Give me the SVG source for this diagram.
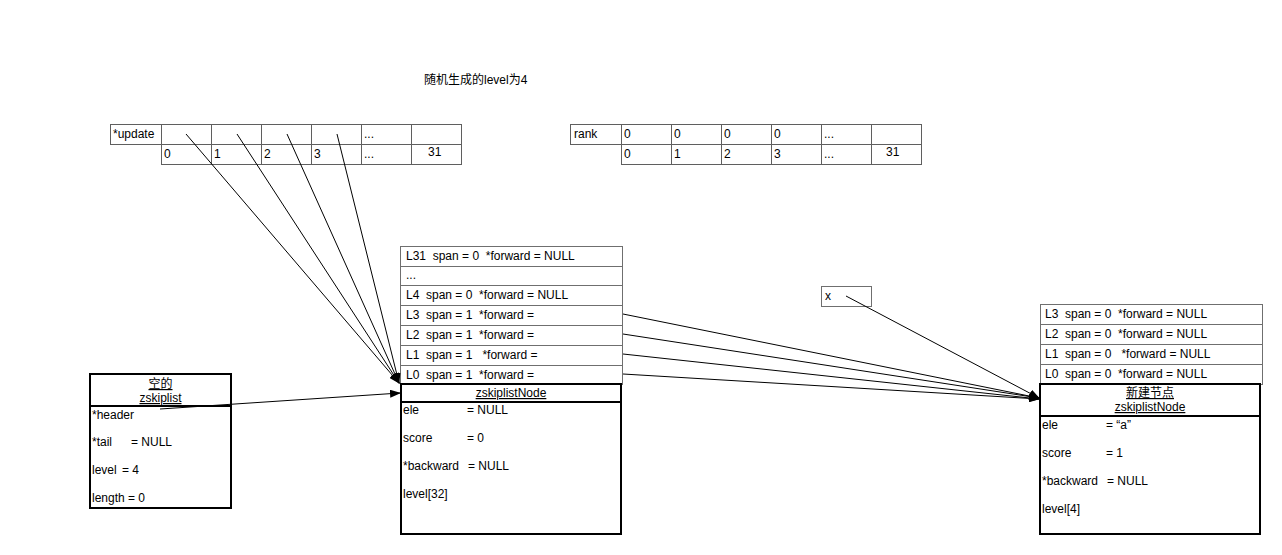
<svg xmlns="http://www.w3.org/2000/svg" width="1282" height="555" viewBox="0 0 1282 555">
  <style>
    text { font-family: "Liberation Sans", Arial, "Noto Sans CJK SC", sans-serif; font-size: 12px; fill: #000; white-space: pre; }
    .cell { fill: #fff; stroke: #5f5f5f; stroke-width: 1; }
    .lvl { fill: #fff; stroke: #6f6f6f; stroke-width: 1; }
    .box { fill: #fff; stroke: #000; stroke-width: 2; }
    .sep { stroke: #000; stroke-width: 2; }
    .title { text-decoration: underline; }
    .link { fill: none; stroke: #000; stroke-width: 1; marker-end: url(#arrow); }
  </style>
  <defs>
    <marker id="arrow" markerUnits="userSpaceOnUse" markerWidth="11" markerHeight="8" refX="10" refY="4" orient="auto">
      <path d="M0,0 L11,4 L0,8 z" fill="#000"/>
    </marker>
  </defs>
  <rect width="1282" height="555" fill="#fff"/>

  <text id="caption" x="424" y="84">随机生成的level为4</text>

  <!-- update array -->
  <g id="update">
    <rect class="cell" x="110.5" y="124.5" width="51" height="20"/>
    <rect class="cell" x="161.5" y="124.5" width="50" height="20"/>
    <rect class="cell" x="211.5" y="124.5" width="50" height="20"/>
    <rect class="cell" x="261.5" y="124.5" width="50" height="20"/>
    <rect class="cell" x="311.5" y="124.5" width="50" height="20"/>
    <rect class="cell" x="361.5" y="124.5" width="50" height="20"/>
    <rect class="cell" x="411.5" y="124.5" width="50" height="20"/>
    <rect class="cell" x="161.5" y="144.5" width="50" height="20"/>
    <rect class="cell" x="211.5" y="144.5" width="50" height="20"/>
    <rect class="cell" x="261.5" y="144.5" width="50" height="20"/>
    <rect class="cell" x="311.5" y="144.5" width="50" height="20"/>
    <rect class="cell" x="361.5" y="144.5" width="50" height="20"/>
    <rect class="cell" x="411.5" y="144.5" width="50" height="20"/>
    <text x="113" y="138">*update</text>
    <text x="364" y="138">...</text>
    <text x="164" y="158">0</text>
    <text x="214" y="158">1</text>
    <text x="264" y="158">2</text>
    <text x="314" y="158">3</text>
    <text x="364" y="158">...</text>
    <text x="428" y="156">31</text>
  </g>

  <!-- rank array -->
  <g id="rank">
    <rect class="cell" x="570.5" y="124.5" width="51" height="20"/>
    <rect class="cell" x="621.5" y="124.5" width="50" height="20"/>
    <rect class="cell" x="671.5" y="124.5" width="50" height="20"/>
    <rect class="cell" x="721.5" y="124.5" width="50" height="20"/>
    <rect class="cell" x="771.5" y="124.5" width="50" height="20"/>
    <rect class="cell" x="821.5" y="124.5" width="50" height="20"/>
    <rect class="cell" x="871.5" y="124.5" width="50" height="20"/>
    <rect class="cell" x="621.5" y="144.5" width="50" height="20"/>
    <rect class="cell" x="671.5" y="144.5" width="50" height="20"/>
    <rect class="cell" x="721.5" y="144.5" width="50" height="20"/>
    <rect class="cell" x="771.5" y="144.5" width="50" height="20"/>
    <rect class="cell" x="821.5" y="144.5" width="50" height="20"/>
    <rect class="cell" x="871.5" y="144.5" width="50" height="20"/>
    <text x="574" y="138">rank</text>
    <text x="624" y="138">0</text>
    <text x="674" y="138">0</text>
    <text x="724" y="138">0</text>
    <text x="774" y="138">0</text>
    <text x="824" y="138">...</text>
    <text x="624" y="158">0</text>
    <text x="674" y="158">1</text>
    <text x="724" y="158">2</text>
    <text x="774" y="158">3</text>
    <text x="824" y="158">...</text>
    <text x="886" y="156">31</text>
  </g>

  <!-- empty zskiplist -->
  <g id="zskiplist">
    <rect class="box" x="90" y="374" width="141" height="134"/>
    <line class="sep" x1="90" y1="406" x2="231" y2="406"/>
    <text class="title" x="160.5" y="388" text-anchor="middle">空的</text>
    <text class="title" x="160.5" y="402" text-anchor="middle">zskiplist</text>
    <text x="92" y="419">*header</text>
    <text x="92" y="446">*tail</text>
    <text x="131" y="446">= NULL</text>
    <text x="92" y="474">level</text>
    <text x="122" y="474">= 4</text>
    <text x="92" y="502">length = 0</text>
  </g>

  <!-- header node with 32 levels -->
  <g id="headerNode">
    <rect class="lvl" x="400.5" y="246.5" width="222" height="20"/>
    <rect class="lvl" x="400.5" y="266.5" width="222" height="19"/>
    <rect class="lvl" x="400.5" y="285.5" width="222" height="20"/>
    <rect class="lvl" x="400.5" y="305.5" width="222" height="20"/>
    <rect class="lvl" x="400.5" y="325.5" width="222" height="20"/>
    <rect class="lvl" x="400.5" y="345.5" width="222" height="20"/>
    <rect class="lvl" x="400.5" y="365.5" width="222" height="19"/>
    <text x="406" y="260">L31  span = 0  *forward = NULL</text>
    <text x="406" y="279">...</text>
    <text x="406" y="299">L4  span = 0  *forward = NULL</text>
    <text x="406" y="319">L3  span = 1  *forward =</text>
    <text x="406" y="339">L2  span = 1  *forward =</text>
    <text x="406" y="359">L1  span = 1   *forward =</text>
    <text x="406" y="379">L0  span = 1  *forward =</text>
    <rect class="box" x="401" y="384" width="220" height="150"/>
    <line class="sep" x1="401" y1="402" x2="621" y2="402"/>
    <text class="title" x="511" y="397" text-anchor="middle">zskiplistNode</text>
    <text x="403" y="414">ele</text>
    <text x="467" y="414">= NULL</text>
    <text x="403" y="442">score</text>
    <text x="467" y="442">= 0</text>
    <text x="403" y="470">*backward</text>
    <text x="468" y="470">= NULL</text>
    <text x="403" y="498">level[32]</text>
  </g>

  <!-- pointer x -->
  <g id="x">
    <rect class="lvl" x="821.5" y="286.5" width="50" height="20"/>
    <text x="825" y="300">x</text>
  </g>

  <!-- newly created node -->
  <g id="newNode">
    <rect class="lvl" x="1040.5" y="304.5" width="222" height="20"/>
    <rect class="lvl" x="1040.5" y="324.5" width="222" height="20"/>
    <rect class="lvl" x="1040.5" y="344.5" width="222" height="20"/>
    <rect class="lvl" x="1040.5" y="364.5" width="222" height="20"/>
    <text x="1045" y="318">L3  span = 0  *forward = NULL</text>
    <text x="1045" y="338">L2  span = 0  *forward = NULL</text>
    <text x="1045" y="358">L1  span = 0   *forward = NULL</text>
    <text x="1045" y="378">L0  span = 0  *forward = NULL</text>
    <rect class="box" x="1040" y="384" width="220" height="150"/>
    <line class="sep" x1="1040" y1="416" x2="1260" y2="416"/>
    <text class="title" x="1150" y="397" text-anchor="middle">新建节点</text>
    <text class="title" x="1150" y="411" text-anchor="middle">zskiplistNode</text>
    <text x="1042" y="429">ele</text>
    <text x="1106" y="429">= “a”</text>
    <text x="1042" y="457">score</text>
    <text x="1106" y="457">= 1</text>
    <text x="1042" y="485">*backward</text>
    <text x="1107" y="485">= NULL</text>
    <text x="1042" y="513">level[4]</text>
  </g>

  <!-- connectors -->
  <g id="connectors">
    <line class="link" x1="186" y1="134" x2="399" y2="383"/>
    <line class="link" x1="237" y1="134" x2="399" y2="383"/>
    <line class="link" x1="287" y1="134" x2="399" y2="383"/>
    <line class="link" x1="337" y1="134" x2="399" y2="383"/>
    <line class="link" x1="160" y1="409" x2="400" y2="393"/>
    <line class="link" x1="623" y1="314" x2="1039" y2="398"/>
    <line class="link" x1="623" y1="334" x2="1039" y2="398"/>
    <line class="link" x1="623" y1="354" x2="1039" y2="399"/>
    <line class="link" x1="623" y1="374" x2="1039" y2="399"/>
    <line class="link" x1="846" y1="296" x2="1039" y2="398"/>
  </g>
</svg>
